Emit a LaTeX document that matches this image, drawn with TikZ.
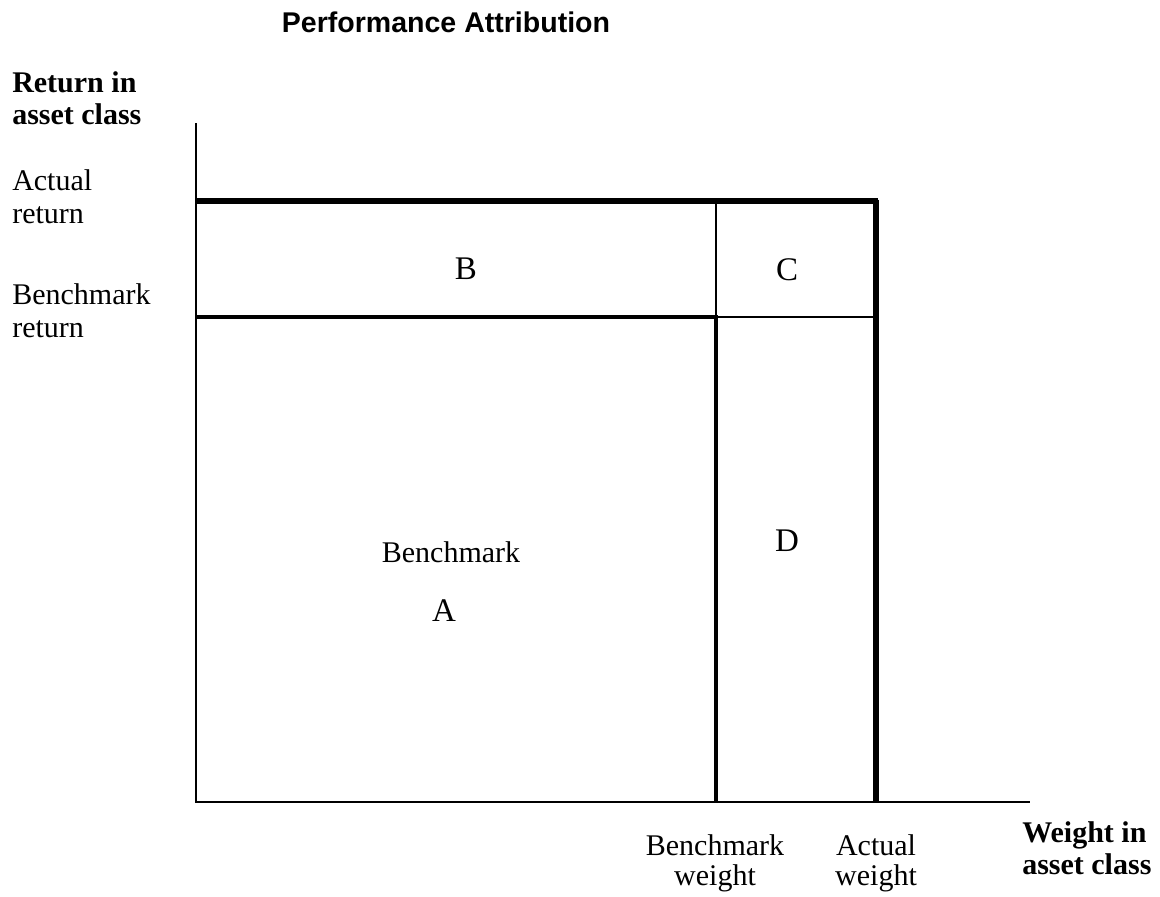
\documentclass[tikz,border=0pt]{standalone}
\usepackage{fontspec}
\setmainfont{Liberation Serif}
\newfontfamily\titlefont{Liberation Sans}
\begin{document}
\begin{tikzpicture}[x=0.75pt,y=-0.75pt,
  lbl/.style={inner sep=0pt,anchor=base,font=\fontsize{22.5}{27}\selectfont},
  lblw/.style={lbl,anchor=base west},
  bold/.style={lblw,font=\fontsize{22.5}{27}\selectfont\bfseries},
  letter/.style={inner sep=0pt,anchor=base,font=\fontsize{24.75}{30}\selectfont},
  axis/.style={line width=1.9pt},
  heavy/.style={line width=3.9pt},
  medium/.style={line width=3pt},
  thin/.style={line width=1.1pt}]
\useasboundingbox (0,0) rectangle (1160,896);

% title
\node[inner sep=0pt,anchor=base,font=\titlefont\bfseries\fontsize{21.4}{26}\selectfont] (title) at (446,32) {Performance Attribution};

% corner points of the attribution grid
\coordinate (o)  at (196,802);
\coordinate (yt) at (196,123);
\coordinate (xe) at (1030,802);
\coordinate (ar) at (196,201);
\coordinate (br) at (196,317);
\coordinate (bw) at (716,802);
\coordinate (aw) at (876,802);
\coordinate (bwa) at (716,201);
\coordinate (bwb) at (716,317);
\coordinate (awa) at (876,201);
\coordinate (awb) at (876,317);

% axes
\draw[axis] (yt) -- (o) -- (xe);

% actual return (top) and actual weight (right)
\draw[heavy] (ar) -- ([xshift=1.5]awa);
\draw[heavy] ([xshift=0]awa) ++(0,-1.5) -- (aw);

% benchmark return / benchmark weight
\draw[medium] (br) -- (bwb) -- (bw);
\draw[thin] (bwa) -- (bwb) -- (awb);

% region labels
\node[letter] (B) at (466,279) {B};
\node[letter] (C) at (787,280) {C};
\node[letter] (D) at (787,551) {D};
\node[lbl] (bm) at (451,562) {Benchmark};
\node[letter] (A) at (444,621) {A};

% vertical axis labels
\node[bold] (ret1) at (12,92) {Return in};
\node[bold] (ret2) at (12,124) {asset class};
\node[lblw] (act1) at (12,190) {Actual};
\node[lblw] (act2) at (12,223) {return};
\node[lblw] (ben1) at (12,304) {Benchmark};
\node[lblw] (ben2) at (12,337) {return};

% horizontal axis labels
\node[lbl] (bwl1) at (715,855) {Benchmark};
\node[lbl] (bwl2) at (715,885) {weight};
\node[lbl] (awl1) at (876,855) {Actual};
\node[lbl] (awl2) at (876,885) {weight};
\node[bold] (wt1) at (1022,842) {Weight in};
\node[bold] (wt2) at (1022,874) {asset class};
\end{tikzpicture}
\end{document}
